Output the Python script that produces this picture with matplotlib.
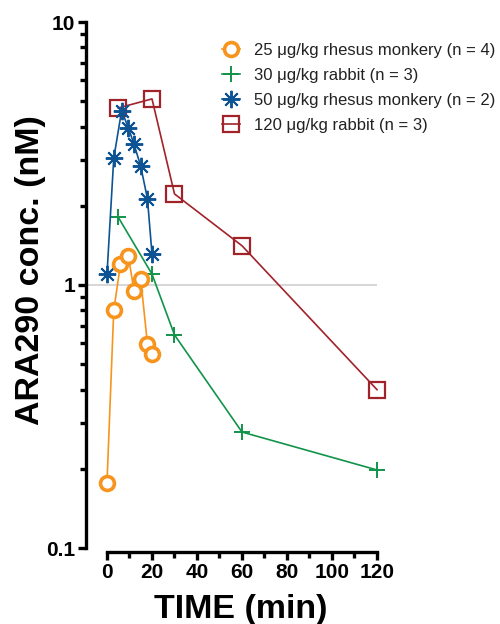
import matplotlib
matplotlib.use("Agg")
import matplotlib.pyplot as plt
from matplotlib.ticker import FixedLocator, FuncFormatter, NullFormatter

plt.rcParams['font.family'] = ['Liberation Sans', 'DejaVu Sans']

# Data
t_m25 = [0, 3, 6, 9.5, 12, 15, 18, 20]
c_m25 = [0.177, 0.80, 1.20, 1.29, 0.95, 1.05, 0.595, 0.545]

t_r30 = [5, 20, 30, 60, 120]
c_r30 = [1.81, 1.10, 0.646, 0.276, 0.198]

t_m50 = [0, 3, 6.5, 9.5, 12, 15, 18, 20]
c_m50 = [1.10, 3.03, 4.6, 3.96, 3.43, 2.83, 2.12, 1.31]

t_r120 = [5, 20, 30, 60, 120]
c_r120 = [4.71, 5.10, 2.22, 1.41, 0.40]

labels = ["25 μg/kg rhesus monkery (n = 4)",
          "30 μg/kg rabbit (n = 3)",
          "50 μg/kg rhesus monkery (n = 2)",
          "120 μg/kg rabbit (n = 3)"]

c_orange = "#F7941D"
c_green = "#12934A"
c_blue = "#0E5494"
c_red = "#A0232A"

fig = plt.figure(figsize=(5.0, 6.24), dpi=100)
ax_top, ax_bot = 22, 548
ax = fig.add_axes([86/500, 1-ax_bot/624, (377-86)/500, (ax_bot-ax_top)/624])

ax.axhline(1, color="#cccccc", lw=1.1, zorder=0)

h_red, = ax.plot(t_r120, c_r120, color=c_red, lw=1.2, marker='s', ms=11,
                 mfc='none', mec=c_red, mew=1.6, clip_on=False, label=labels[3])
h_green, = ax.plot(t_r30, c_r30, color=c_green, lw=1.2, marker='+', ms=12,
                   mew=1.4, clip_on=False, label=labels[1])
h_blue, = ax.plot(t_m50, c_m50, color=c_blue, lw=1.2, marker=(8, 2, 0), ms=12.5,
                  mew=1.4, clip_on=False, label=labels[2])
h_orange, = ax.plot(t_m25, c_m25, color=c_orange, lw=1.2, marker='o', ms=10,
                    mfc='white', mec=c_orange, mew=2.6, clip_on=False, label=labels[0])

ax.set_yscale('log')
ax.set_ylim(0.1, 10)
ax.set_xlim(-9.33, 120)

for s in ['top', 'right']:
    ax.spines[s].set_visible(False)
ax.spines['left'].set_linewidth(2.4)
ax.spines['bottom'].set_linewidth(2.4)
ax.spines['bottom'].set_bounds(0, 120)
ax.spines['bottom'].set_position(('outward', 3))

ax.yaxis.set_major_locator(FixedLocator([0.1, 1, 10]))
ax.yaxis.set_major_formatter(FuncFormatter(lambda v, p: {0.1: "0.1", 1: "1", 10: "10"}.get(round(v, 3), "")))
minors = [m * d for d in (0.1, 1) for m in range(2, 10)]
ax.yaxis.set_minor_locator(FixedLocator(minors))
ax.yaxis.set_minor_formatter(NullFormatter())
ax.xaxis.set_major_locator(FixedLocator([0, 20, 40, 60, 80, 100, 120]))
ax.xaxis.set_minor_locator(FixedLocator([10, 30, 50, 70, 90, 110]))

ax.tick_params(axis='both', which='major', width=2.4, length=6, labelsize=15, pad=2)
ax.tick_params(axis='both', which='minor', width=2.4, length=4)
for lab in ax.get_xticklabels() + ax.get_yticklabels():
    lab.set_fontweight('bold')

h = ax_bot - ax_top
ax.set_ylabel("ARA290 conc. (nM)", fontsize=24.5, fontweight='bold')
ax.yaxis.set_label_coords((46-86)/291, (ax_bot-270)/h)
ax.set_xlabel("TIME (min)", fontsize=24.5, fontweight='bold')
ax.xaxis.set_label_coords((241-86)/291, -46/h)

leg = ax.legend(handles=[h_orange, h_green, h_blue, h_red], loc='upper left',
                bbox_to_anchor=(222/500, 1-43/624), bbox_transform=fig.transFigure,
                frameon=False, fontsize=12, handlelength=1.1, handletextpad=0.85,
                labelspacing=0.6, borderaxespad=0, borderpad=0)
for txt in leg.get_texts():
    txt.set_color("#222222")

fig.savefig("out.png", dpi=100)
